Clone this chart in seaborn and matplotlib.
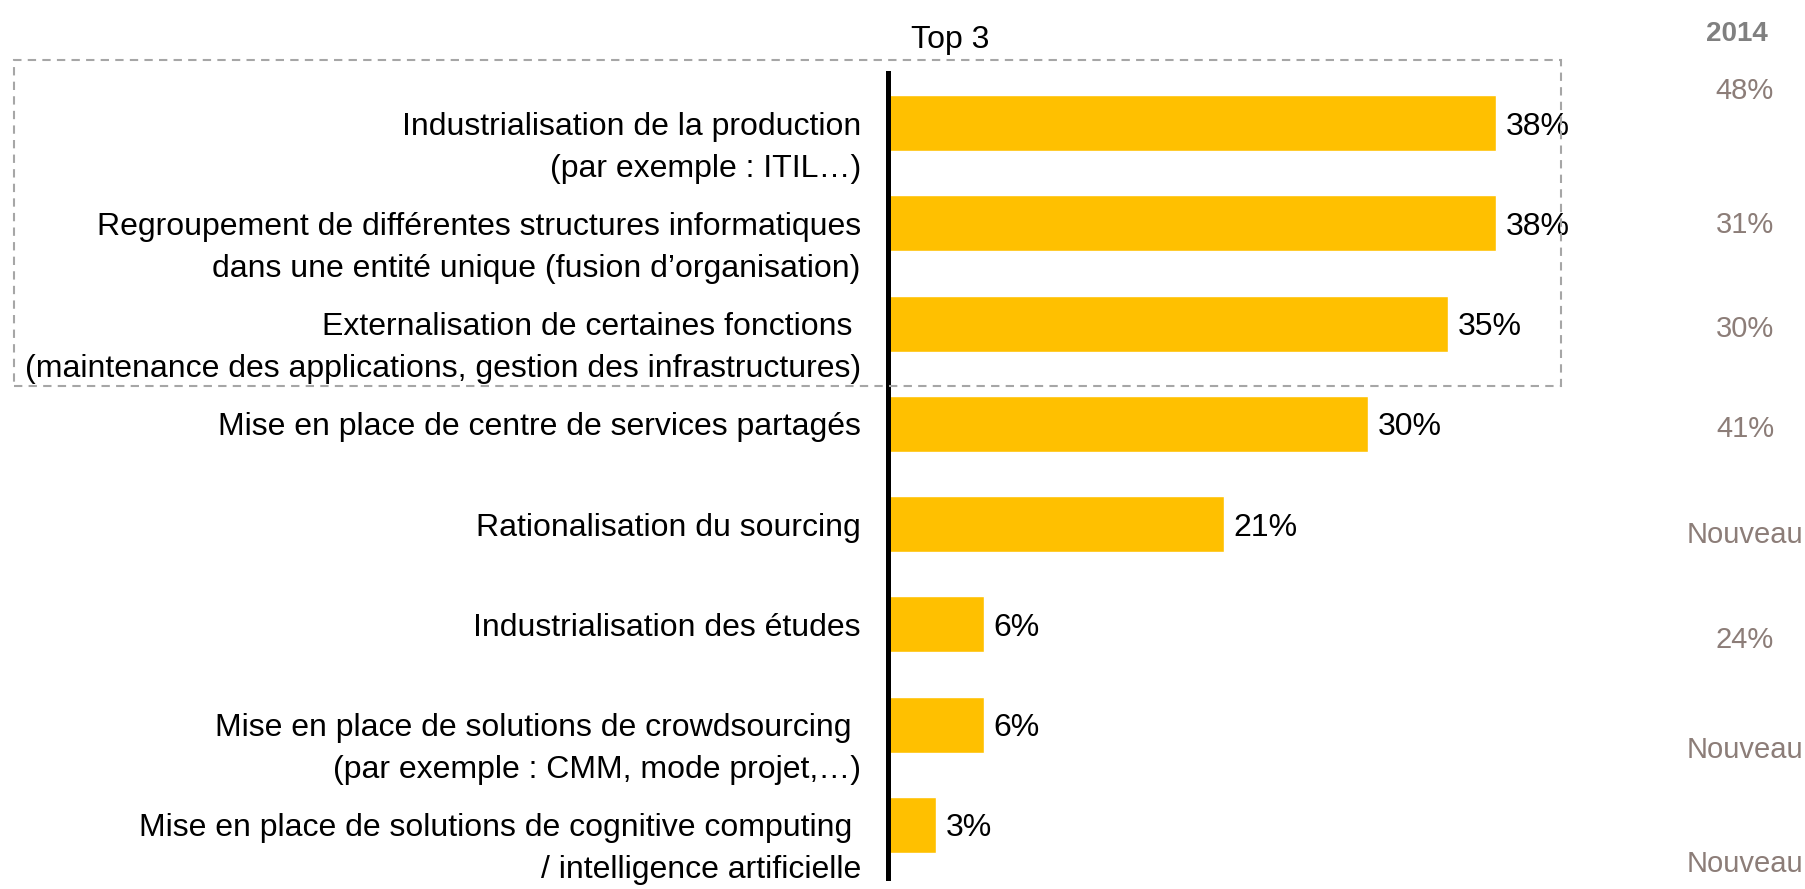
import matplotlib
matplotlib.use('Agg')
import matplotlib.pyplot as plt
import matplotlib.transforms as mtransforms
from matplotlib.patches import Rectangle
import pandas as pd
import seaborn as sns

# Chart data
categories = [
    'Industrialisation de la production\n(par exemple : ITIL…)',
    'Regroupement de différentes structures informatiques\ndans une entité unique (fusion d’organisation)',
    'Externalisation de certaines fonctions \n(maintenance des applications, gestion des infrastructures)',
    'Mise en place de centre de services partagés',
    'Rationalisation du sourcing',
    'Industrialisation des études',
    'Mise en place de solutions de crowdsourcing \n(par exemple : CMM, mode projet,…)',
    'Mise en place de solutions de cognitive computing \n/ intelligence artificielle',
]
values = [38, 38, 35, 30, 21, 6, 6, 3]
values_2014 = ['48%', '31%', '30%', '41%', 'Nouveau', '24%', 'Nouveau', 'Nouveau']
header_left = 'Top 3'
header_right = '2014'

df = pd.DataFrame({'cat': categories, 'val': values})

sns.set_style("white")
plt.rcParams['font.family'] = ['Liberation Sans', 'DejaVu Sans']

W, H = 1806, 889
fig = plt.figure(figsize=(W / 100, H / 100), dpi=100)
ax = fig.add_axes([888 / W, (H - 878) / H, 800 / W, 805 / H])

sns.barplot(data=df, x='val', y='cat', color='#FFC000', width=0.56,
            saturation=1, ax=ax, orient='h')

ax.set_xlim(0, 50)
ax.set_ylim(7.53, -0.5)
ax.set_xlabel('')
ax.set_ylabel('')
ax.set_xticks([])
ax.set_yticks([])
for s in ['top', 'right', 'bottom']:
    ax.spines[s].set_visible(False)
ax.spines['left'].set_linewidth(3.6)
ax.spines['left'].set_color('black')

fs = 23
# value labels
for i, v in enumerate(values):
    ax.text(v + 0.6, i, f'{v}%', va='center_baseline', ha='left', fontsize=fs,
            color='black')

# category labels (first line centred on the bar)
for i, cat in enumerate(categories):
    for j, line in enumerate(cat.split('\n')):
        ax.text(-1.7, i + 0.42 * j, line, va='center_baseline', ha='right',
                fontsize=fs, color='black', clip_on=False)

# 2014 column
trans = mtransforms.blended_transform_factory(fig.transFigure, ax.transData)
offsets_2014 = [-0.35, -0.01, 0.02, 0.02, 0.08, 0.13, 0.22, 0.36]
for i, (t, o) in enumerate(zip(values_2014, offsets_2014)):
    ax.text(1745 / W, i + o, t, va='center_baseline', ha='center', fontsize=21,
            color='#8C7D78', transform=trans, clip_on=False)

ax.text(1737 / W, -0.92, header_right, va='center_baseline', ha='center',
        fontsize=20, color='#808080', fontweight='bold', transform=trans,
        clip_on=False)
ax.text(3.9, -0.86, header_left, va='center_baseline', ha='center', fontsize=23,
        color='black', clip_on=False)

# dashed box around the top 3
box = Rectangle((14 / W, 1 - 386 / H), (1561 - 14) / W, 326 / H,
                transform=fig.transFigure, fill=False, edgecolor='#A6A6A6',
                linestyle=(0, (4, 3)), linewidth=1.5)
fig.patches.append(box)

plt.savefig('out.png', dpi=100)
